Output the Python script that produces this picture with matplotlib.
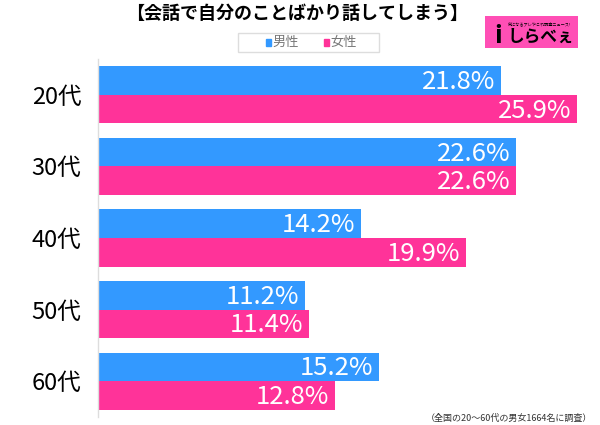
import matplotlib
matplotlib.use("Agg")
import matplotlib.pyplot as plt
from matplotlib.patches import Rectangle
import numpy as np

plt.rcParams['font.family'] = ['Noto Sans CJK JP', 'DejaVu Sans']

categories = ["20代", "30代", "40代", "50代", "60代"]
male = [21.8, 22.6, 14.2, 11.2, 15.2]
female = [25.9, 22.6, 19.9, 11.4, 12.8]
series_names = ["男性", "女性"]
title = "【会話で自分のことばかり話してしまう】"
footnote = "（全国の20～60代の男女1664名に調査）"

c_male = "#3399FF"
c_female = "#FF3399"

fig = plt.figure(figsize=(6, 4.25), dpi=100)
ax = fig.add_axes([98/600, 1-417/425, 482/600, (417-59)/425])

y = np.arange(len(categories))
h = 0.4
ax.barh(y - h/2, male, height=h, color=c_male, edgecolor="none")
ax.barh(y + h/2, female, height=h, color=c_female, edgecolor="none")

for yi, v in zip(y - h/2, male):
    ax.text(v - 0.3, yi + 0.02, f"{v}%", color="white", fontsize=18.5,
            ha="right", va="center")
for yi, v in zip(y + h/2, female):
    ax.text(v - 0.3, yi + 0.02, f"{v}%", color="white", fontsize=18.5,
            ha="right", va="center")

ax.set_xlim(0, 26.05)
ax.set_ylim(len(categories) - 0.5, -0.5)
ax.set_yticks(y)
ax.set_yticklabels(categories, fontsize=17)
ax.tick_params(axis="y", length=0, pad=12)
ax.set_xticks([])
for s in ["top", "right", "bottom"]:
    ax.spines[s].set_visible(False)
ax.spines["left"].set_color("#dddddd")
ax.spines["left"].set_linewidth(1)

fig.text(297/600, 1-13/425, title, ha="center", va="center", fontsize=13,
         fontweight="bold")

# legend
lg = fig.add_axes([0, 0, 1, 1], facecolor="none")
lg.set_xlim(0, 600)
lg.set_ylim(425, 0)
lg.axis("off")
lg.add_patch(Rectangle((238, 33), 141, 19, facecolor="white",
                       edgecolor="#dddddd", linewidth=1))
lg.add_patch(Rectangle((266, 39), 4.5, 6.5, color=c_male))
lg.text(272, 42.5, series_names[0], fontsize=9.5, color="#777777", va="center")
lg.add_patch(Rectangle((324, 39), 4.5, 6.5, color=c_female))
lg.text(330, 42.5, series_names[1], fontsize=9.5, color="#777777", va="center")

# logo
lg.add_patch(Rectangle((485, 16), 93, 32, facecolor="#FF4FB5", edgecolor="none"))
lg.text(541, 37, "しらべぇ", fontsize=12, color="black", ha="center",
        va="center", fontweight="bold")
lg.text(539, 24, "気になるアレやこれ調査ニュース!", fontsize=3, color="black",
        ha="center", va="center")
lg.text(498, 36, "i", fontsize=18, color="black", ha="center", va="center",
        fontweight="bold")

fig.text(1-8/600, 1-418/425, footnote, ha="right", va="center", fontsize=6.5,
         color="#333333")

fig.savefig("out.png", dpi=100)
